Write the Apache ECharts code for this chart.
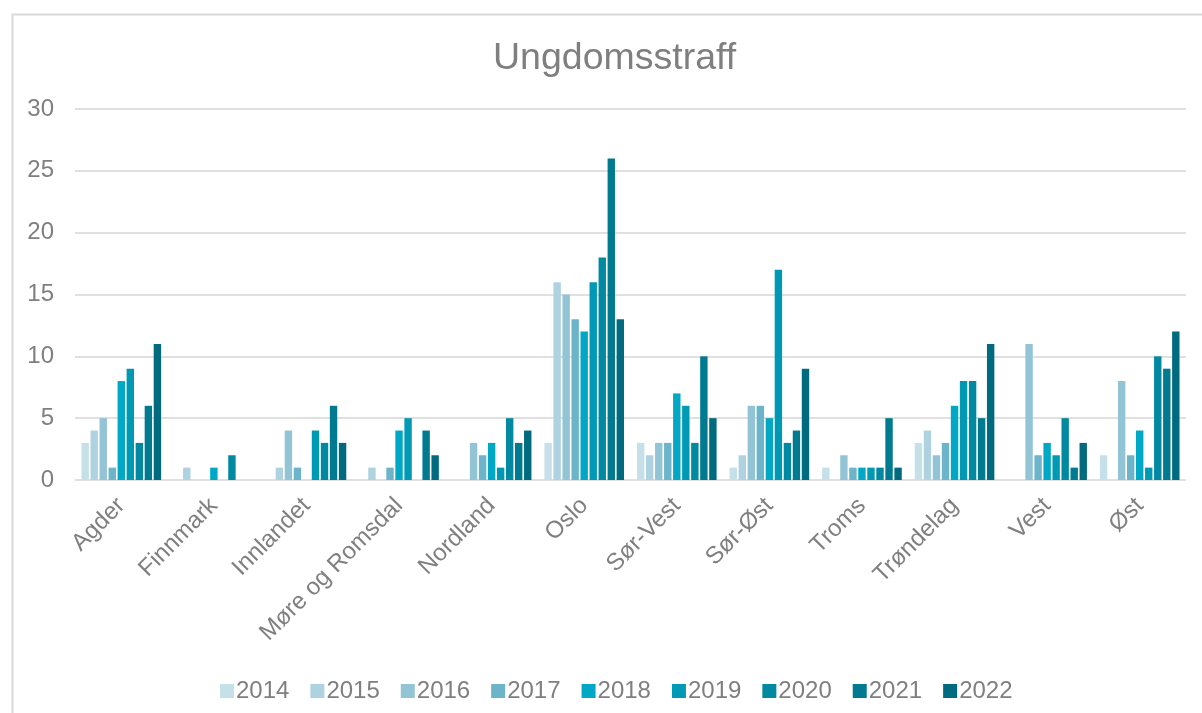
<!DOCTYPE html>
<html>
<head>
<meta charset="utf-8">
<script src="https://cdn.jsdelivr.net/npm/echarts@6/dist/echarts.min.js"></script>
<style>
    html, body {margin: 0; padding: 0; background: #fff;}
    #chart {width: 1202px; height: 713px;}
</style>
</head>
<body>
<div id="chart"></div>
<script>
const regions = ['Agder', 'Finnmark', 'Innlandet', 'Møre og Romsdal', 'Nordland', 'Oslo',
    'Sør-Vest', 'Sør-Øst', 'Troms', 'Trøndelag', 'Vest', 'Øst'];
const years = ['2014', '2015', '2016', '2017', '2018', '2019', '2020', '2021', '2022'];
const colors = ['#c6e0e9', '#aed2df', '#93c4d5', '#6bb4ca', '#00a8c5', '#0099b5', '#0089a1', '#007a90', '#006b7f'];

// one row per year, one value per region
const v2014 = [3, 0, 0, 0, 0, 3, 3, 1, 1, 3, 0, 2];
const v2015 = [4, 1, 1, 1, 0, 16, 2, 2, 0, 4, 0, 0];
const v2016 = [5, 0, 4, 0, 3, 15, 3, 6, 2, 2, 11, 8];
const v2017 = [1, 0, 1, 1, 2, 13, 3, 6, 1, 3, 2, 2];
const v2018 = [8, 1, 0, 4, 3, 12, 7, 5, 1, 6, 3, 4];
const v2019 = [9, 0, 4, 5, 1, 16, 6, 17, 1, 8, 2, 1];
const v2020 = [3, 2, 3, 0, 5, 18, 3, 3, 1, 8, 5, 10];
const v2021 = [6, 0, 6, 4, 3, 26, 10, 4, 5, 5, 1, 9];
const v2022 = [11, 0, 3, 2, 4, 13, 5, 9, 1, 11, 3, 12];
const values = [v2014, v2015, v2016, v2017, v2018, v2019, v2020, v2021, v2022];

const yTicks = {min: 0, max: 30, step: 5};

const textColor = '#7f7f7f';
const font = 'Liberation Sans, Arial, sans-serif';

const chart = echarts.init(document.getElementById('chart'), null, {renderer: 'canvas'});

chart.setOption({
    animation: false,
    color: colors,
    textStyle: {fontFamily: font},
    title: {
        text: 'Ungdomsstraff',
        left: 488,
        top: 35,
        textStyle: {fontSize: 37.5, fontWeight: 'normal', color: textColor, fontFamily: font},
    },
    legend: {
        left: 215,
        top: 674,
        itemWidth: 14,
        itemHeight: 14,
        itemGap: 21,
        icon: 'rect',
        textStyle: {fontSize: 24, color: textColor, padding: [0, 0, 0, -3]},
        data: years,
    },
    grid: {left: 75, right: 16, top: 109, bottom: 233, containLabel: false},
    xAxis: {
        type: 'category',
        data: regions,
        axisLine: {show: false},
        axisTick: {show: false},
        axisLabel: {rotate: 45, margin: 22, fontSize: 24, color: textColor, interval: 0},
    },
    yAxis: {
        type: 'value',
        min: yTicks.min,
        max: yTicks.max,
        interval: yTicks.step,
        axisLine: {show: false},
        axisTick: {show: false},
        axisLabel: {fontSize: 24, color: textColor, margin: 21},
        splitLine: {lineStyle: {color: '#e0e0e0', width: 2}},
    },
    graphic: [{
        type: 'rect',
        left: 10,
        top: 12,
        shape: {width: 1220, height: 720},
        style: {fill: 'none', stroke: '#d9d9d9', lineWidth: 2},
        silent: true,
        z: -10,
    }],
    series: years.map((y, i) => ({
        name: y,
        type: 'bar',
        data: values[i],
        barGap: '22%',
        barCategoryGap: '14%',
    })),
});
</script>
</body>
</html>
